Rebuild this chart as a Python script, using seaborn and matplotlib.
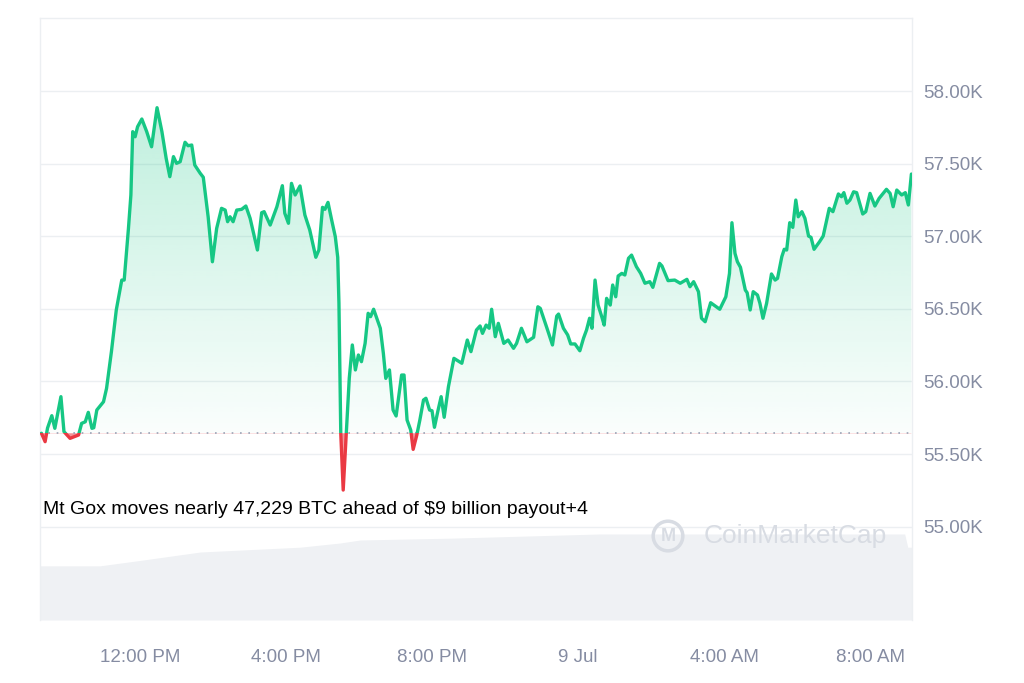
import numpy as np
import pandas as pd
import matplotlib
matplotlib.use("Agg")
import matplotlib.pyplot as plt
import seaborn as sns
from matplotlib.patches import Rectangle, PathPatch
from matplotlib.path import Path
from matplotlib.colors import to_rgb

# ---------------- data ----------------
# minutes relative to 12:00 PM, 8 Jul
minutes = [-162, -156, -152, -145, -140, -130, -125, -115, -101, -96,
           -90, -85, -79, -76, -71, -60, -55, -47, -39, -30,
           -26, -19, -15, -12, -8, -4, 3, 11, 19, 28,
           36, 43, 49, 55, 60, 66, 74, 79, 85, 90,
           99, 104, 112, 119, 126, 134, 140, 144, 148, 153,
           159, 167, 174, 181, 193, 200, 204, 214, 225, 234,
           238, 244, 249, 255, 263, 271, 279, 289, 294, 300,
           304, 309, 315, 321, 325, 327, 330, 334, 339, 344,
           349, 354, 359, 364, 370, 375, 379, 384, 395, 400,
           404, 410, 416, 421, 430, 434, 439, 445, 449, 455,
           460, 466, 470, 476, 480, 484, 490, 495, 500, 507,
           516, 529, 538, 544, 553, 559, 563, 569, 574, 578,
           584, 589, 598, 605, 614, 619, 627, 636, 647, 654,
           658, 669, 678, 685, 688, 696, 703, 708, 715, 723,
           729, 734, 739, 743, 748, 753, 759, 763, 767, 773,
           777, 782, 786, 792, 797, 803, 808, 816, 823, 830,
           838, 843, 854, 858, 868, 879, 888, 899, 904, 910,
           918, 923, 929, 938, 953, 963, 969, 973, 978, 982,
           987, 995, 998, 1003, 1008, 1015, 1019, 1024, 1030, 1038,
           1044, 1048, 1055, 1059, 1063, 1068, 1073, 1078, 1082, 1088,
           1093, 1099, 1103, 1108, 1117, 1123, 1133, 1139, 1148, 1153,
           1157, 1162, 1167, 1173, 1178, 1188, 1193, 1200, 1208, 1215,
           1227, 1233, 1238, 1244, 1252, 1258, 1263, 1268]

prices = [55643, 55585, 55679, 55764, 55677, 55895, 55654, 55608, 55631, 55711,
          55722, 55787, 55677, 55681, 55803, 55860, 55952, 56205, 56492, 56698,
          56698, 57054, 57284, 57720, 57685, 57754, 57807, 57720, 57616, 57885,
          57720, 57536, 57410, 57548, 57502, 57513, 57647, 57623, 57628, 57490,
          57433, 57406, 57134, 56824, 57054, 57192, 57180, 57100, 57134, 57100,
          57180, 57185, 57208, 57123, 56905, 57162, 57169, 57077, 57203, 57348,
          57158, 57089, 57364, 57284, 57346, 57146, 57043, 56855, 56905, 57199,
          57185, 57233, 57112, 56997, 56855, 56540, 55643, 55252, 55643, 56023,
          56251, 56079, 56182, 56136, 56262, 56469, 56446, 56497, 56366, 56194,
          56021, 56079, 55803, 55762, 56044, 56044, 55734, 55665, 55532, 55631,
          55734, 55872, 55884, 55803, 55798, 55684, 55803, 55895, 55753, 55964,
          56159, 56125, 56285, 56205, 56354, 56382, 56331, 56388, 56366, 56497,
          56308, 56400, 56262, 56285, 56228, 56262, 56366, 56273, 56304, 56514,
          56503, 56366, 56251, 56450, 56464, 56366, 56320, 56258, 56258, 56211,
          56297, 56354, 56435, 56366, 56698, 56526, 56446, 56388, 56572, 56526,
          56664, 56583, 56726, 56744, 56733, 56848, 56870, 56790, 56744, 56676,
          56687, 56648, 56813, 56795, 56694, 56698, 56676, 56703, 56652, 56687,
          56618, 56435, 56411, 56542, 56497, 56583, 56744, 57093, 56882, 56824,
          56786, 56629, 56611, 56492, 56618, 56595, 56538, 56435, 56538, 56740,
          56698, 56710, 56859, 56910, 56905, 57093, 57061, 57249, 57134, 57169,
          57123, 57001, 56992, 56910, 56962, 57001, 57192, 57169, 57291, 57272,
          57300, 57227, 57249, 57306, 57300, 57153, 57169, 57295, 57208, 57261,
          57323, 57295, 57203, 57318, 57284, 57300, 57215, 57428]

# background volume band (arbitrary units, 0-100 scale)
vol_minutes = [-164, -66, 0, 99, 263, 329, 362, 510, 756, 1216, 1257, 1262, 1269]
vol_values = [9.0, 9.0, 9.9, 11.3, 12.1, 12.8, 13.3, 13.6, 14.3, 14.3, 14.3, 12.1, 12.1]

tick_minutes = [0, 240, 480, 720, 960, 1200]
tick_labels = ["12:00 PM", "4:00 PM", "8:00 PM", "9 Jul", "4:00 AM", "8:00 AM"]
ytick_values = [55000, 55500, 56000, 56500, 57000, 57500, 58000]
ytick_labels = ["55.00K", "55.50K", "56.00K", "56.50K", "57.00K", "57.50K", "58.00K"]
annotation = "Mt Gox moves nearly 47,229 BTC ahead of $9 billion payout+4"
watermark = "CoinMarketCap"

# ---------------- style ----------------
GREEN = "#16c784"
RED = "#ea3943"
GRID = "#eceff2"
LABEL = "#858ca2"
WM = "#d8dce3"

sns.set_theme(style="white")
plt.rcParams['font.family'] = ['Liberation Sans', 'DejaVu Sans']

df = pd.DataFrame({"minute": minutes, "price": prices})
vol = pd.DataFrame({"minute": vol_minutes, "volume": vol_values})
base = prices[0]

x_lo, x_hi = -164.4, 1269
y_lo, y_hi = 54357, 58500

fig = plt.figure(figsize=(10.24, 6.83), dpi=100)
rect = [40 / 1024, 1 - 620 / 683, 872 / 1024, 601.6 / 683]

# background volume band
axv = fig.add_axes(rect)
axv.fill_between(vol["minute"], vol["volume"], 0, color="#eff1f4", lw=0)
axv.set_xlim(x_lo, x_hi)
axv.set_ylim(0, 100)
axv.axis("off")

ax = fig.add_axes(rect)
ax.patch.set_visible(False)

# gradient fills, clipped to the region between the price line and the open
poly = ([(minutes[0], base)] + list(zip(minutes, prices))
        + [(minutes[-1], base), (minutes[0], base)])
clip = PathPatch(Path(poly), transform=ax.transData, fc="none", ec="none")

N = 256
g = np.zeros((N, 1, 4))
g[..., :3] = to_rgb(GREEN)
g[:, 0, 3] = np.linspace(0.02, 0.34, N)
im_g = ax.imshow(g, extent=[x_lo, x_hi, base, y_hi], origin="lower",
                 aspect="auto", zorder=1, interpolation="bilinear")
im_g.set_clip_path(clip)

r = np.zeros((N, 1, 4))
r[..., :3] = to_rgb(RED)
r[:, 0, 3] = np.linspace(0.2, 0.55, N)
im_r = ax.imshow(r, extent=[x_lo, x_hi, 55200, base], origin="lower",
                 aspect="auto", zorder=1, interpolation="bilinear")
im_r.set_clip_path(clip)

# price line (green above open, red below)
sns.lineplot(data=df, x="minute", y="price", ax=ax, color=GREEN, lw=2.4, zorder=4)
line_g = ax.get_lines()[-1]
line_g.set_clip_path(Rectangle((x_lo, base), x_hi - x_lo, y_hi - base,
                               transform=ax.transData))
sns.lineplot(data=df, x="minute", y="price", ax=ax, color=RED, lw=2.4, zorder=4)
line_r = ax.get_lines()[-1]
line_r.set_clip_path(Rectangle((x_lo, y_lo), x_hi - x_lo, base - y_lo,
                               transform=ax.transData))

ax.axhline(base, color="#9aa3b5", lw=1.2, ls=(0, (1, 4)), zorder=3)

ax.set_xlim(x_lo, x_hi)
ax.set_ylim(y_lo, y_hi)
ax.set_xlabel("")
ax.set_ylabel("")
ax.set_xticks(tick_minutes, tick_labels)
ax.yaxis.tick_right()
ax.set_yticks(ytick_values, ytick_labels)
ax.yaxis.grid(True, color=GRID, lw=1)
ax.xaxis.grid(False)
ax.tick_params(axis="both", length=0, labelsize=13.5, colors=LABEL)
ax.tick_params(axis="x", pad=21)
ax.tick_params(axis="y", pad=8)
for side in ["left", "right", "top"]:
    ax.spines[side].set_visible(True)
    ax.spines[side].set_color(GRID)
    ax.spines[side].set_linewidth(1)
ax.spines["bottom"].set_visible(False)

ax.text(0.0034, 0.1845, annotation, transform=ax.transAxes, fontsize=14,
        color="black", ha="left", va="center", zorder=6)

ax.text(0.866, 0.1396, watermark, transform=ax.transAxes, fontsize=19,
        color=WM, ha="center", va="center", zorder=5)
ax.text(0.7202, 0.1396, "M", transform=ax.transAxes, fontsize=13,
        color=WM, ha="center", va="center", zorder=5, fontweight="bold",
        bbox=dict(boxstyle="circle,pad=0.35", fc="none", ec=WM, lw=2.5))

fig.savefig("out.png", dpi=100)
